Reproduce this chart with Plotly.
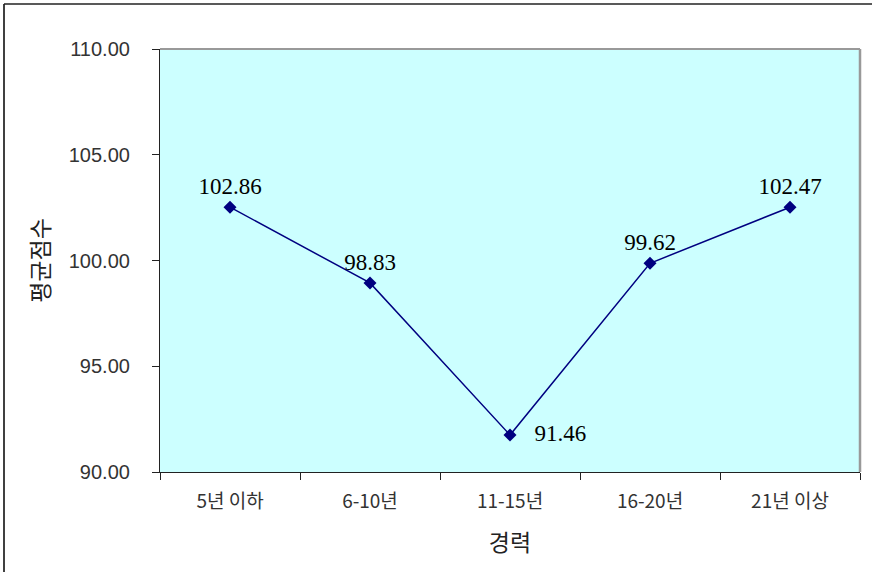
import plotly.graph_objects as go

categories = ["5년 이하", "6-10년", "11-15년", "16-20년", "21년 이상"]
plotted_values = [102.52, 98.94, 91.75, 99.87, 102.52]
label_values = [102.86, 98.83, 91.46, 99.62, 102.47]
label_positions = ["top center", "top center", "middle right", "top center", "top center"]
label_prefix = ["", "", "   ", "", ""]
y_ticks = [90, 95, 100, 105, 110]

fig = go.Figure()
fig.add_trace(go.Scatter(
    x=categories, y=plotted_values,
    mode="lines+markers+text",
    line=dict(color="#000080", width=1.5),
    marker=dict(symbol="diamond", size=10, color="#000080"),
    text=[p + f"{v:.2f}" for p, v in zip(label_prefix, label_values)],
    textposition=label_positions,
    textfont=dict(family="Liberation Serif, DejaVu Serif, serif", size=23, color="black"),
    cliponaxis=False,
    showlegend=False,
))

fig.update_layout(
    width=872, height=572,
    margin=dict(l=160, r=12, t=49, b=100),
    paper_bgcolor="white",
    plot_bgcolor="#CCFFFF",
    xaxis=dict(
        type="category",
        tickson="boundaries",
        ticks="outside", ticklen=7, tickcolor="#222222",
        showline=True, linecolor="#222222", linewidth=1.2,
        showgrid=False, mirror=False,
        ticklabelstandoff=12,
        tickfont=dict(family="Noto Sans CJK KR, sans-serif", size=19, color="#333333"),
        title=dict(text="경력", font=dict(family="Noto Sans CJK KR, sans-serif", size=23, color="#222222"), standoff=22),
        range=[-0.5, 4.5],
    ),
    yaxis=dict(
        range=[90, 110],
        tickvals=y_ticks,
        ticktext=[f"{v:.2f}" for v in y_ticks],
        ticks="outside", ticklen=7, tickcolor="#222222",
        showline=True, linecolor="#222222", linewidth=1.2,
        showgrid=False, zeroline=False,
        ticklabelstandoff=18,
        tickfont=dict(family="Liberation Sans, Arial, sans-serif", size=20, color="#333333"),
        title=dict(text="평균점수", font=dict(family="Noto Sans CJK KR, sans-serif", size=23, color="#222222"), standoff=12),
    ),
)

# plot-area border (gray top/right)
fig.add_shape(type="line", xref="paper", yref="paper", x0=0, x1=1, y0=1, y1=1,
              line=dict(color="#999999", width=2))
fig.add_shape(type="line", xref="paper", yref="paper", x0=1, x1=1, y0=0, y1=1,
              line=dict(color="#999999", width=2.5))

# outer chart border (left and top visible)
fig.add_shape(type="line", xref="paper", yref="paper",
              x0=-156/700, x1=-156/700, y0=-110/423, y1=1 + 45/423,
              line=dict(color="black", width=1.5))
fig.add_shape(type="line", xref="paper", yref="paper",
              x0=-156/700, x1=1 + 20/700, y0=1 + 45/423, y1=1 + 45/423,
              line=dict(color="#222222", width=1.5))

fig.write_html("out.html")
